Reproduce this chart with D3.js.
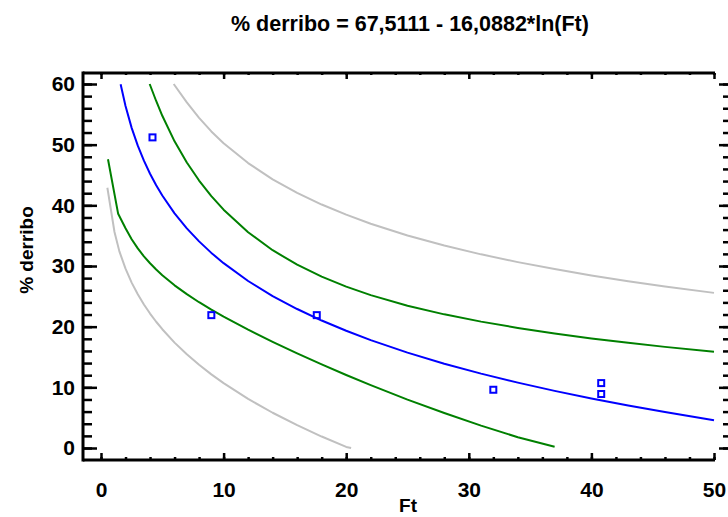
<!DOCTYPE html>
<html>
<head>
<meta charset="utf-8">
<script src="https://cdn.jsdelivr.net/npm/d3@7"></script>
<style>
  body { margin: 0; background: #fff; }
  text { font-family: "Liberation Sans", Arial, sans-serif; font-weight: bold; fill: #000; }
</style>
</head>
<body>
<svg id="chart" width="728" height="517"></svg>
<script>
// observed points (Ft, % derribo)
const obsFt = [4.2, 9.0, 17.6, 32.0, 40.8, 40.8];
const obsY  = [51.2, 21.9, 21.9, 9.6, 10.7, 8.9];

// fitted line
const fitFt = [1.6, 2, 2.5, 3, 3.5, 4, 4.5, 5, 6, 7, 8, 9, 10, 12, 14, 16, 18, 20, 22, 25, 28, 31, 34, 37, 40, 43, 46, 50];
const fitY  = [59.95, 56.36, 52.77, 49.84, 47.36, 45.21, 43.31, 41.62, 38.68, 36.21, 34.06, 32.16, 30.47, 27.53, 25.05, 22.91, 21.01, 19.32, 17.78, 15.72, 13.90, 12.26, 10.78, 9.42, 8.16, 7.00, 5.92, 4.57];

// confidence limits (green)
const confUpFt = [3.97, 4.5, 5, 6, 7, 8, 9, 10, 12, 14, 16, 18, 20, 22, 25, 28, 31, 34, 37, 40, 43, 46, 50];
const confUpY  = [60.0, 57.20, 54.76, 50.55, 47.06, 44.09, 41.52, 39.29, 35.56, 32.60, 30.21, 28.24, 26.60, 25.20, 23.46, 22.03, 20.83, 19.79, 18.88, 18.06, 17.34, 16.67, 15.86];
const confLoFt = [0.57, 1.4, 2, 2.5, 3, 3.5, 4, 4.5, 5, 6, 7, 8, 9, 10, 12, 14, 16, 18, 20, 22, 25, 28, 31, 34, 37];
const confLoY  = [47.6, 38.6, 36.23, 34.41, 32.90, 31.59, 30.45, 29.42, 28.48, 26.81, 25.36, 24.03, 22.80, 21.65, 19.50, 17.50, 15.61, 13.78, 12.04, 10.36, 7.98, 5.77, 3.69, 1.77, 0.2];

// prediction limits (gray)
const predUpFt = [5.93, 7, 8, 9, 10, 12, 14, 16, 18, 20, 22, 25, 28, 31, 34, 37, 40, 43, 46, 50];
const predUpY  = [60.0, 56.97, 54.41, 52.18, 50.24, 46.97, 44.29, 42.06, 40.13, 38.46, 36.97, 35.04, 33.38, 31.92, 30.64, 29.49, 28.44, 27.50, 26.63, 25.57];
const predLoFt = [0.52, 1.1, 1.5, 2, 2.5, 3, 3.5, 4, 4.5, 5, 6, 7, 8, 9, 10, 12, 14, 16, 18, 20, 20.4];
const predLoY  = [42.9, 35.6, 32.41, 29.56, 27.26, 25.34, 23.66, 22.16, 20.81, 19.58, 17.37, 15.45, 13.71, 12.14, 10.70, 8.09, 5.81, 3.76, 1.89, 0.18, 0.0];

const xTicks = [0, 10, 20, 30, 40, 50];
const yTicks = [0, 10, 20, 30, 40, 50, 60];

const svg = d3.select("#chart");

var x = d3.scaleLinear().domain([0, 50]).range([101, 714]);
var y = d3.scaleLinear().domain([0, 60]).range([448, 84]);

const frameL = 83, frameR = 732, frameT = 73, frameB = 460;
const minorX = d3.range(0, 51, 2), minorY = d3.range(0, 61, 2);

// title
svg.append("text")
  .attr("x", 410).attr("y", 31)
  .attr("text-anchor", "middle")
  .style("font-size", "21.5px")
  .text("% derribo = 67,5111 - 16,0882*ln(Ft)");

// axes (ticks point inward)
function axisStyle(g) {
  g.select(".domain").remove();
  g.selectAll("line").attr("stroke", "#000").attr("stroke-width", 2.5);
  g.selectAll("text").style("font-size", "21px").attr("fill", "#000");
}

svg.append("g").attr("transform", "translate(" + frameL + ",0)")
  .call(d3.axisLeft(y).tickValues(minorY).tickSize(-9).tickFormat(""))
  .call(axisStyle);
svg.append("g").attr("transform", "translate(" + frameL + ",0)")
  .call(d3.axisLeft(y).tickValues(yTicks).tickSize(-14).tickPadding(8))
  .call(axisStyle);

svg.append("g").attr("transform", "translate(" + frameR + ",0)")
  .call(d3.axisRight(y).tickValues(minorY).tickSize(-9).tickFormat(""))
  .call(axisStyle);
svg.append("g").attr("transform", "translate(" + frameR + ",0)")
  .call(d3.axisRight(y).tickValues(yTicks).tickSize(-13).tickFormat(""))
  .call(axisStyle);

svg.append("g").attr("transform", "translate(0," + frameB + ")")
  .call(d3.axisBottom(x).tickValues(minorX).tickSize(-3).tickFormat(""))
  .call(axisStyle);
svg.append("g").attr("transform", "translate(0," + frameB + ")")
  .call(d3.axisBottom(x).tickValues(xTicks).tickSize(-7).tickPadding(22))
  .call(axisStyle);

svg.append("g").attr("transform", "translate(0," + frameT + ")")
  .call(d3.axisTop(x).tickValues(minorX).tickSize(-2).tickFormat(""))
  .call(axisStyle);
svg.append("g").attr("transform", "translate(0," + frameT + ")")
  .call(d3.axisTop(x).tickValues(xTicks).tickSize(-6).tickFormat(""))
  .call(axisStyle);

// frame
const frame = svg.append("g").attr("stroke", "#000").attr("stroke-width", 3);
frame.append("line").attr("x1", frameL).attr("x2", frameL).attr("y1", frameT - 1.5).attr("y2", frameB + 1.5);
frame.append("line").attr("x1", frameL).attr("x2", 715).attr("y1", frameT).attr("y2", frameT);
frame.append("line").attr("x1", frameL).attr("x2", 715).attr("y1", frameB).attr("y2", frameB);
frame.append("line").attr("x1", frameR).attr("x2", frameR).attr("y1", frameT).attr("y2", frameB);

// axis titles
svg.append("text")
  .attr("x", 408).attr("y", 512)
  .attr("text-anchor", "middle")
  .style("font-size", "19px")
  .text("Ft");

svg.append("text")
  .attr("transform", "translate(33,250) rotate(-90)")
  .attr("text-anchor", "middle")
  .style("font-size", "19px")
  .text("% derribo");

// curves
const line = d3.line().x(d => x(d[0])).y(d => y(d[1]));

function drawCurve(xs, ys, color) {
  svg.append("path")
    .datum(d3.zip(xs, ys))
    .attr("fill", "none")
    .attr("stroke", color)
    .attr("stroke-width", 2)
    .attr("stroke-linejoin", "round")
    .attr("d", line);
}

drawCurve(predUpFt, predUpY, "#c0c0c0");
drawCurve(predLoFt, predLoY, "#c0c0c0");
drawCurve(confUpFt, confUpY, "#008000");
drawCurve(confLoFt, confLoY, "#008000");
drawCurve(fitFt, fitY, "#0000ff");

// points
svg.selectAll("rect.pt")
  .data(d3.zip(obsFt, obsY))
  .enter()
  .append("rect")
  .attr("class", "pt")
  .attr("x", d => x(d[0]) - 3)
  .attr("y", d => y(d[1]) - 3)
  .attr("width", 6)
  .attr("height", 6)
  .attr("fill", "none")
  .attr("stroke", "#0000ff")
  .attr("stroke-width", 2);
</script>
</body>
</html>
